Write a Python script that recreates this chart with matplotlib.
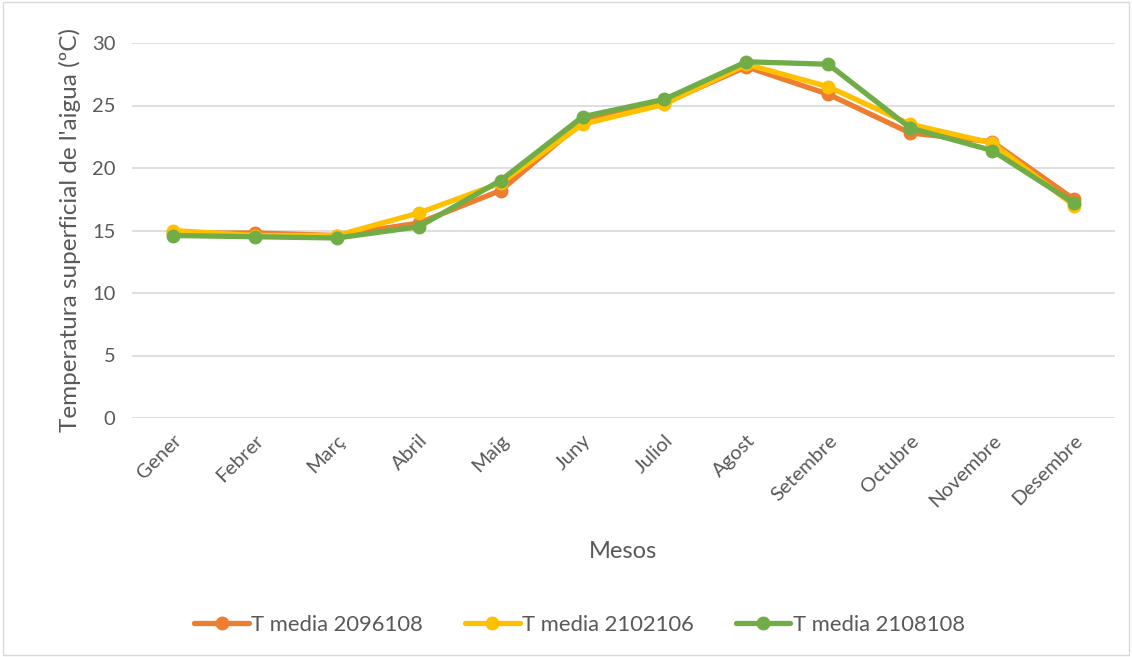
import matplotlib.pyplot as plt
from matplotlib.patches import Rectangle

plt.rcParams['font.family'] = ['Lato', 'DejaVu Sans']

mesos = ['Gener', 'Febrer', 'Març', 'Abril', 'Maig', 'Juny', 'Juliol',
         'Agost', 'Setembre', 'Octubre', 'Novembre', 'Desembre']
t_2096108 = [14.8, 14.8, 14.6, 15.6, 18.2, 23.7, 25.2, 28.1, 25.9, 22.8, 22.1, 17.5]
t_2102106 = [15.0, 14.6, 14.6, 16.4, 18.8, 23.5, 25.1, 28.3, 26.5, 23.5, 22.0, 17.0]
t_2108108 = [14.6, 14.5, 14.4, 15.3, 19.0, 24.1, 25.5, 28.5, 28.3, 23.2, 21.4, 17.2]

series = [('T media 2096108', t_2096108, '#ED7D31'),
          ('T media 2102106', t_2102106, '#FFC000'),
          ('T media 2108108', t_2108108, '#70AD47')]

fig = plt.figure(figsize=(11.32, 6.57), dpi=100)
ax = fig.add_axes([132/1132, 1 - 418/657, (1115 - 132)/1132, (418 - 43)/657])

x = range(len(mesos))
for name, vals, col in series:
    ax.plot(x, vals, color=col, lw=3.8, marker='o', ms=9, label=name,
            solid_capstyle='round', zorder=3)

ax.set_xlim(-0.5, len(mesos) - 0.5)
ax.set_ylim(0, 30)
ax.set_yticks(range(0, 31, 5))
ax.grid(axis='y', color='#d9d9d9', lw=1.2)
ax.set_axisbelow(True)
for s in ax.spines.values():
    s.set_visible(False)
ax.tick_params(length=0, colors='#595959', labelsize=14.5)
ax.tick_params(axis='y', pad=12)
ax.set_xticks(list(x))
ax.set_xticklabels(mesos, rotation=45, ha='right', rotation_mode='anchor')
ax.tick_params(axis='x', pad=10)

ax.set_ylabel("Temperatura superficial de l'aigua (ºC)", fontsize=17.5, color='#595959', labelpad=8)
ax.set_xlabel('Mesos', fontsize=17, color='#595959', labelpad=22)

fig.legend(loc='center', bbox_to_anchor=(0.512, 1 - 625/657), ncol=3, frameon=False,
           fontsize=15.8, labelcolor='#595959', handlelength=2.5, handletextpad=0.1,
           columnspacing=1.9)

fig.patches.append(Rectangle((0.003, 0.003), 0.994, 0.994, transform=fig.transFigure,
                             fill=False, edgecolor='#d9d9d9', lw=1))

fig.savefig('out.png', dpi=100)
